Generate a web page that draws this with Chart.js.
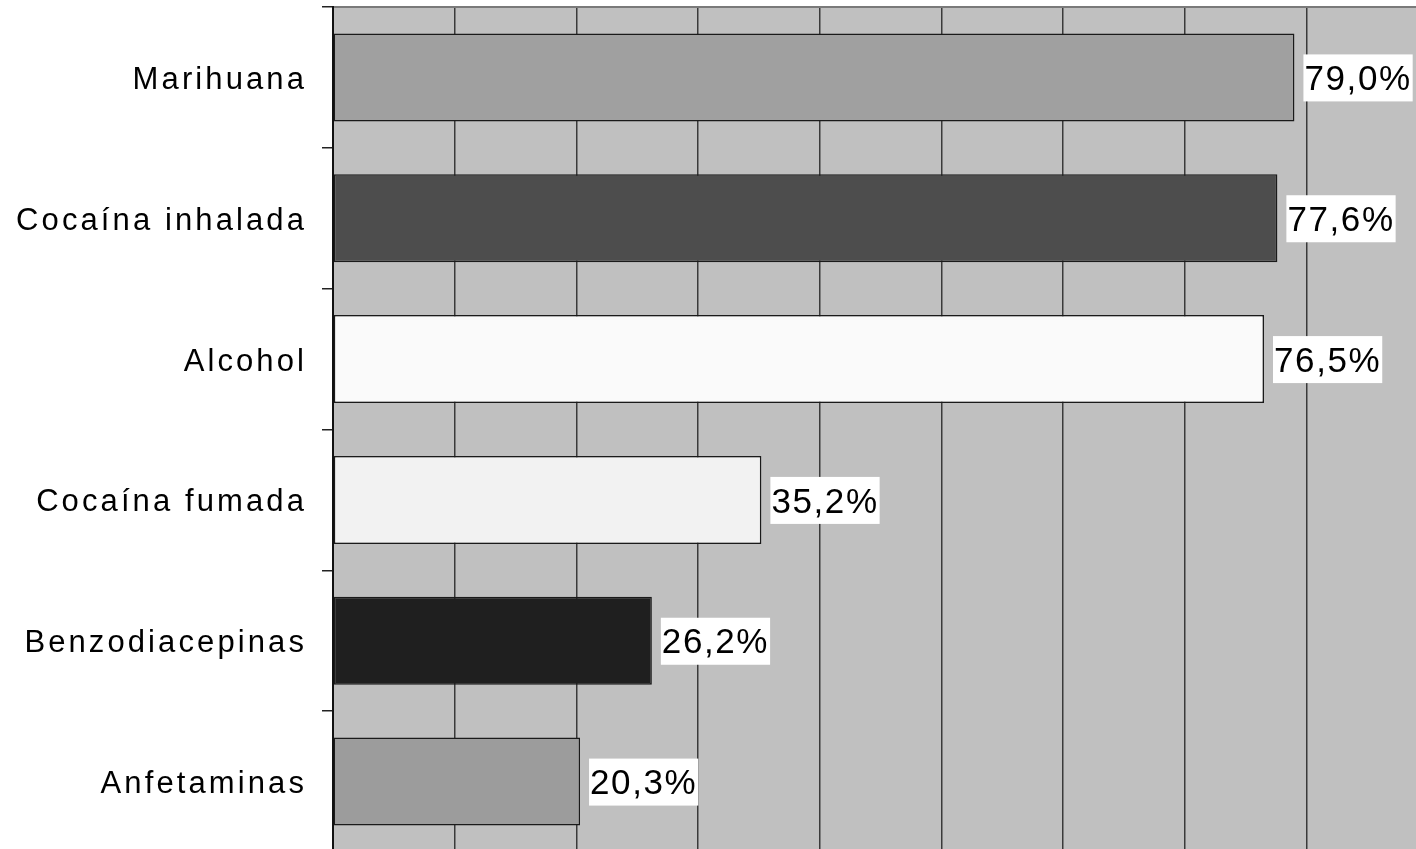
<!DOCTYPE html>
<html>
<head>
<meta charset="utf-8">
<script src="https://cdn.jsdelivr.net/npm/chart.js@4/dist/chart.umd.min.js"></script>
<style>
  html, body { margin: 0; padding: 0; background: #ffffff; overflow: hidden; }
  #wrap { position: absolute; left: 0; top: 0; width: 1440px; height: 860px; }
</style>
</head>
<body>
<div id="wrap"><canvas id="c"></canvas></div>
<script>
const categories = ['Marihuana', 'Cocaína inhalada', 'Alcohol', 'Cocaína fumada', 'Benzodiacepinas', 'Anfetaminas'];
const values = [79.0, 77.6, 76.5, 35.2, 26.2, 20.3];
const barColors = ['#a0a0a0', '#4d4d4d', '#fafafa', '#f2f2f2', '#1f1f1f', '#9c9c9c'];
const xMin = 0, xMax = 90, xStep = 10;

const plotBg = {
  id: 'plotBg',
  beforeDraw(chart) {
    const { ctx, chartArea: a } = chart;
    ctx.save();
    ctx.fillStyle = '#c0c0c0';
    ctx.fillRect(a.left, a.top, a.right - a.left, a.bottom - a.top);
    ctx.restore();
    ctx.letterSpacing = '3.1px';
  },
  beforeDatasetsDraw(chart) {
    chart.ctx.letterSpacing = '0px';
  }
};

const valueLabels = {
  id: 'valueLabels',
  afterDatasetsDraw(chart) {
    const ctx = chart.ctx;
    const meta = chart.getDatasetMeta(0);
    ctx.save();
    ctx.letterSpacing = '1.6px';
    ctx.font = '35px "Liberation Sans", Arial, sans-serif';
    ctx.textBaseline = 'middle';
    ctx.textAlign = 'left';
    meta.data.forEach((bar, i) => {
      const txt = values[i].toFixed(1).replace('.', ',') + '%';
      const w = ctx.measureText(txt).width;
      const x = bar.x + 9;
      const y = bar.y;
      ctx.fillStyle = '#ffffff';
      ctx.fillRect(x, y - 23, w + 2, 47);
      ctx.fillStyle = '#000000';
      ctx.fillText(txt, x + 1, y + 3);
    });
    ctx.restore();
  }
};

function zeroPad(scale) {
  scale.paddingTop = 0;
  scale.paddingBottom = 0;
  scale.paddingLeft = 0;
  scale.paddingRight = 0;
}

new Chart(document.getElementById('c'), {
  type: 'bar',
  data: {
    labels: categories,
    datasets: [{
      data: values,
      backgroundColor: barColors,
      borderColor: '#1a1a1a',
      borderWidth: 1.5,
      borderSkipped: false,
      barPercentage: 0.625,
      categoryPercentage: 1.0
    }]
  },
  options: {
    indexAxis: 'y',
    responsive: true,
    maintainAspectRatio: false,
    animation: false,
    layout: { padding: { left: 0, right: 11.7, top: 7, bottom: 8 } },
    plugins: { legend: { display: false }, tooltip: { enabled: false }, title: { display: false } },
    scales: {
      x: {
        position: 'top',
        min: xMin, max: xMax,
        ticks: { display: false, stepSize: xStep },
        grid: { color: '#3a3a3a', lineWidth: 1.5, drawTicks: false },
        border: { display: true, color: '#7a7a7a', width: 2 },
        afterFit(scale) { scale.height = 0; zeroPad(scale); }
      },
      y: {
        ticks: {
          color: '#000000',
          padding: 15,
          labelOffset: 3,
          font: { family: '"Liberation Sans", Arial, sans-serif', size: 31 }
        },
        grid: { offset: true, drawOnChartArea: false, drawTicks: true, tickLength: 11, color: '#222222', lineWidth: 1.5 },
        border: { display: true, color: '#111111', width: 2 },
        afterFit(scale) { scale.width = 333; zeroPad(scale); }
      }
    }
  },
  plugins: [plotBg, valueLabels]
});
</script>
</body>
</html>
